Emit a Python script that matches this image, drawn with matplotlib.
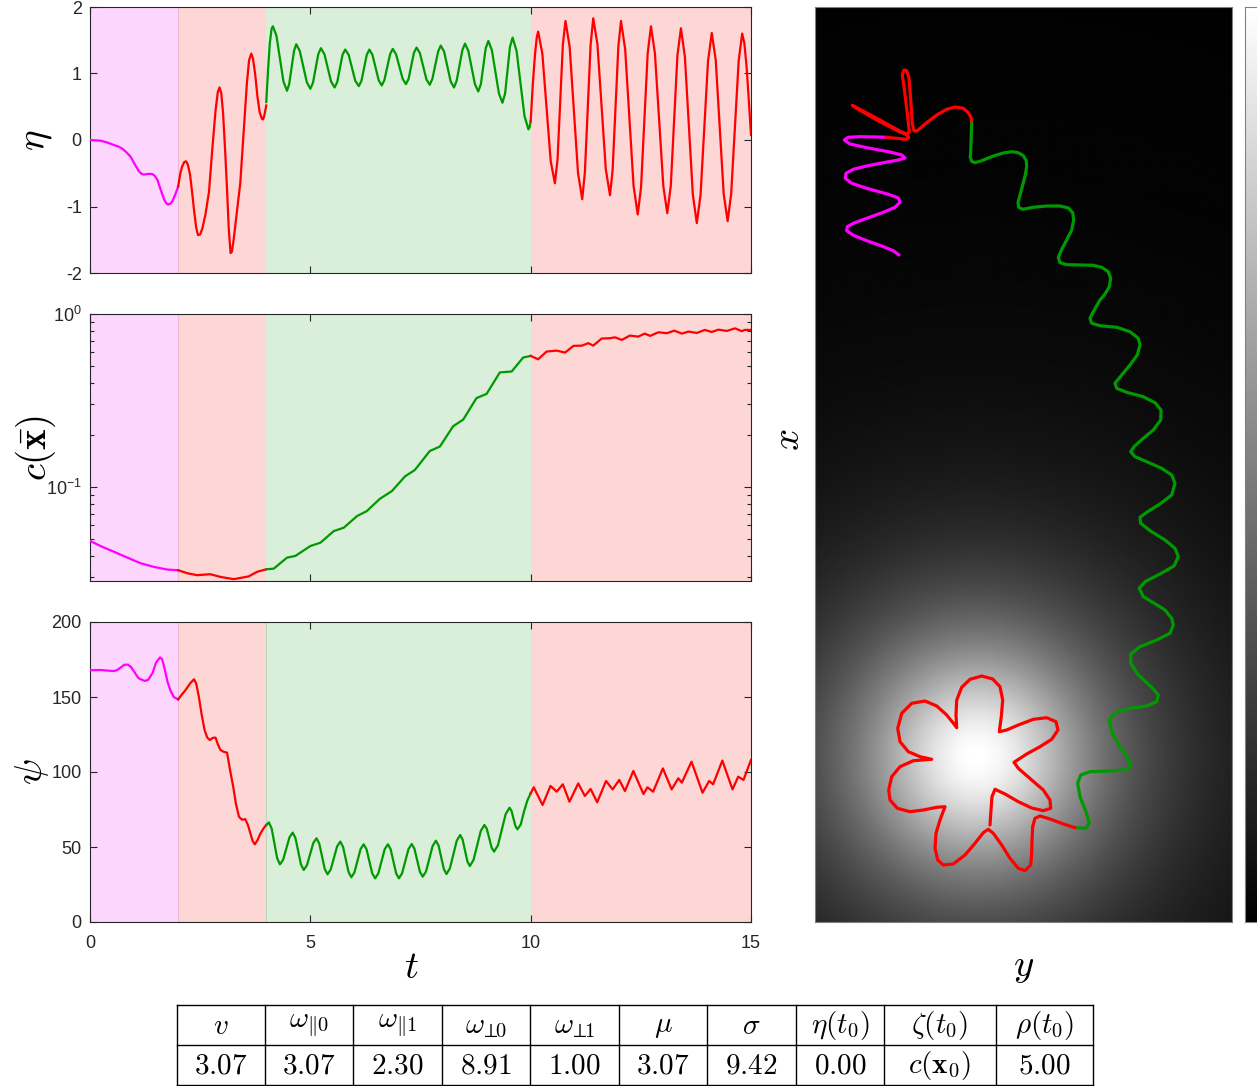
import numpy as np
import matplotlib
matplotlib.use('Agg')
import matplotlib.pyplot as plt
from matplotlib.ticker import NullFormatter, LogLocator, FixedLocator

plt.rcParams['mathtext.fontset'] = 'cm'
plt.rcParams['font.family'] = ['Liberation Sans', 'DejaVu Sans']
plt.rcParams['axes.unicode_minus'] = False

# ---------------- data ----------------
phase_edges = [0, 2, 4, 10, 15]
phase_kind = ['mag', 'red', 'green', 'red']

# eta(t)
eta_mag_t = [0, 0.24, 0.40, 0.54, 0.65, 0.73, 0.82, 0.92, 1.02, 1.11, 1.17, 1.22, 1.32, 1.41, 1.47, 1.53,
             1.60, 1.68, 1.73, 1.77, 1.82, 1.87, 1.93, 2.0]
eta_mag_v = [0, -0.01, -0.04, -0.075, -0.10, -0.13, -0.18, -0.25, -0.37, -0.47, -0.51, -0.52, -0.51, -0.51,
             -0.54, -0.60, -0.74, -0.89, -0.95, -0.97, -0.96, -0.92, -0.83, -0.70]
eta_red1_t = [2.0, 2.05, 2.09, 2.14, 2.18, 2.22, 2.27, 2.32, 2.36, 2.41, 2.45, 2.50, 2.55, 2.62, 2.70, 2.78,
              2.85, 2.90, 2.94, 2.98, 3.02, 3.07, 3.11, 3.15, 3.19, 3.22, 3.26, 3.33, 3.41, 3.48, 3.56,
              3.61, 3.66, 3.70, 3.75, 3.80, 3.85, 3.90, 3.93, 3.96, 4.0]
eta_red1_v = [-0.70, -0.50, -0.40, -0.33, -0.32, -0.37, -0.52, -0.80, -1.05, -1.32, -1.43, -1.42, -1.33,
              -1.12, -0.78, -0.10, 0.45, 0.72, 0.79, 0.70, 0.40, -0.20, -0.75, -1.35, -1.70, -1.68, -1.50,
              -1.10, -0.65, 0.05, 0.85, 1.20, 1.30, 1.22, 0.98, 0.65, 0.42, 0.32, 0.31, 0.38, 0.52]
eta_green_t = [4.0, 4.04, 4.08, 4.12, 4.15, 4.23, 4.31, 4.39, 4.47, 4.52, 4.575, 4.63, 4.68, 4.76, 4.84, 4.92,
               5.0, 5.06, 5.12, 5.18, 5.24, 5.32, 5.395, 5.47, 5.55, 5.61, 5.67, 5.73, 5.79, 5.87, 5.945,
               6.02, 6.10, 6.16, 6.22, 6.28, 6.34, 6.41, 6.48, 6.55, 6.62, 6.68, 6.745, 6.81, 6.87, 6.945,
               7.02, 7.095, 7.17, 7.23, 7.29, 7.35, 7.41, 7.485, 7.56, 7.635, 7.71, 7.77, 7.835, 7.90,
               7.96, 8.035, 8.11, 8.185, 8.26, 8.32, 8.385, 8.45, 8.51, 8.585, 8.66, 8.735, 8.81, 8.87,
               8.925, 8.98, 9.04, 9.12, 9.20, 9.28, 9.36, 9.42, 9.475, 9.53, 9.59, 9.68, 9.77, 9.86, 9.95,
               9.975, 10.0]
eta_green_v = [0.57, 1.05, 1.45, 1.67, 1.71, 1.57, 1.225, 0.88, 0.74, 0.84, 1.09, 1.34, 1.44, 1.34, 1.105,
               0.87, 0.77, 0.86, 1.075, 1.29, 1.38, 1.29, 1.085, 0.88, 0.79, 0.87, 1.075, 1.28, 1.36, 1.28,
               1.085, 0.89, 0.81, 0.89, 1.085, 1.28, 1.36, 1.28, 1.09, 0.90, 0.82, 0.90, 1.095, 1.29, 1.37,
               1.29, 1.105, 0.92, 0.84, 0.92, 1.115, 1.31, 1.39, 1.31, 1.11, 0.91, 0.83, 0.92, 1.125, 1.33,
               1.42, 1.33, 1.105, 0.88, 0.79, 0.89, 1.12, 1.35, 1.45, 1.34, 1.09, 0.84, 0.73, 0.84, 1.11,
               1.38, 1.49, 1.35, 1.025, 0.70, 0.56, 0.70, 1.05, 1.40, 1.54, 1.34, 0.85, 0.36, 0.16, 0.19, 0.28]
eta_red2_t = [10.0, 10.05, 10.10, 10.14, 10.17, 10.265, 10.36, 10.455, 10.55, 10.61, 10.67, 10.73, 10.79,
              10.885, 10.98, 11.075, 11.17, 11.23, 11.295, 11.36, 11.42, 11.515, 11.61, 11.705, 11.80,
              11.86, 11.925, 11.99, 12.05, 12.145, 12.24, 12.335, 12.43, 12.505, 12.58, 12.655, 12.73,
              12.82, 12.915, 13.01, 13.10, 13.18, 13.255, 13.33, 13.41, 13.50, 13.59, 13.68, 13.77, 13.855,
              13.94, 14.025, 14.11, 14.20, 14.29, 14.38, 14.47, 14.55, 14.635, 14.72, 14.80, 14.85, 14.90,
              14.95, 15.0]
eta_red2_v = [0.28, 0.85, 1.30, 1.55, 1.63, 1.30, 0.49, -0.32, -0.65, -0.29, 0.57, 1.43, 1.79, 1.40, 0.45,
              -0.50, -0.89, -0.49, 0.47, 1.43, 1.83, 1.44, 0.50, -0.44, -0.83, -0.45, 0.48, 1.41, 1.79, 1.36,
              0.335, -0.69, -1.12, -0.71, 0.295, 1.30, 1.71, 1.30, 0.305, -0.69, -1.10, -0.69, 0.29, 1.27,
              1.68, 1.25, 0.215, -0.82, -1.25, -0.83, 0.18, 1.19, 1.61, 1.20, 0.195, -0.81, -1.22, -0.81,
              0.19, 1.19, 1.60, 1.45, 1.10, 0.60, 0.08]

# c(x_bar)
c_mag_t = [0, 0.24, 0.54, 0.85, 1.15, 1.45, 1.75, 2.0]
c_mag_v = [0.0486, 0.0454, 0.0421, 0.0389, 0.0361, 0.0344, 0.0332, 0.0329]
c_red1_t = [2.0, 2.21, 2.43, 2.73, 2.96, 3.26, 3.60, 3.79, 4.0]
c_red1_v = [0.0329, 0.0316, 0.0308, 0.0312, 0.0301, 0.0292, 0.0303, 0.0322, 0.0333]
c_green_t = [4.0, 4.17, 4.47, 4.66, 5.0, 5.23, 5.53, 5.76, 6.06, 6.28, 6.58, 6.85, 7.15, 7.37,
             7.71, 7.94, 8.24, 8.47, 8.77, 9.0, 9.30, 9.57, 9.83, 10.0]
c_green_v = [0.0333, 0.0336, 0.0389, 0.0398, 0.0454, 0.0475, 0.0554, 0.058, 0.0677, 0.0723, 0.0853,
             0.0944, 0.115, 0.125, 0.161, 0.171, 0.224, 0.245, 0.326, 0.345, 0.459, 0.465, 0.560, 0.572]
c_red2_t = [10.0, 10.17, 10.36, 10.59, 10.78, 10.97, 11.16, 11.31, 11.42, 11.61, 11.80, 11.91, 12.07,
            12.25, 12.44, 12.59, 12.71, 12.90, 13.09, 13.26, 13.43, 13.58, 13.77, 13.95, 14.11, 14.26,
            14.45, 14.64, 14.79, 14.86, 15.0]
c_red2_v = [0.572, 0.547, 0.606, 0.614, 0.598, 0.654, 0.656, 0.678, 0.656, 0.721, 0.724, 0.733, 0.708,
            0.750, 0.740, 0.770, 0.747, 0.784, 0.774, 0.801, 0.770, 0.791, 0.777, 0.809, 0.787, 0.812,
            0.798, 0.826, 0.795, 0.809, 0.809]

# psi(t)
psi_mag_t = [0, 0.24, 0.40, 0.54, 0.62, 0.69, 0.78, 0.86, 0.93, 1.0, 1.10, 1.24, 1.32, 1.42, 1.50, 1.59,
             1.64, 1.70, 1.76, 1.83, 1.90, 2.0]
psi_mag_v = [167.8, 168, 167.6, 167.3, 168, 169.5, 171.5, 171.6, 170, 167, 162.5, 160.7, 161.5, 166, 173,
             176.4, 175, 168, 160, 154, 150, 148.4]
psi_red1_t = [2.0, 2.08, 2.17, 2.27, 2.36, 2.41, 2.47, 2.53, 2.60, 2.66, 2.72, 2.79, 2.85, 2.90, 2.96, 3.03,
              3.11, 3.18, 3.25, 3.31, 3.38, 3.45, 3.52, 3.58, 3.64, 3.69, 3.74, 3.80, 3.87, 3.94, 4.0]
psi_red1_v = [148.4, 151.5, 154.7, 159, 161.8, 159, 150.2, 139, 128, 123, 121.3, 122.8, 122.9, 118.5, 114.7,
              113.5, 112.9, 101, 90.2, 79, 70.2, 68.2, 68.6, 65, 59.1, 54, 51.8, 54.5, 59.1, 62.5, 64.7]
psi_green_t = [4.0, 4.06, 4.1225, 4.185, 4.2475, 4.31, 4.3825, 4.455, 4.5275, 4.60, 4.6625, 4.725, 4.7875,
               4.85, 4.9225, 4.995, 5.0675, 5.14, 5.2025, 5.265, 5.3275, 5.39, 5.4625, 5.535, 5.6075, 5.68,
               5.7425, 5.805, 5.8675, 5.93, 6.0, 6.07, 6.14, 6.21, 6.275, 6.34, 6.405, 6.47, 6.5425, 6.615,
               6.6875, 6.76, 6.8225, 6.885, 6.9475, 7.01, 7.0825, 7.155, 7.2275, 7.30, 7.3625, 7.425,
               7.4875, 7.55, 7.625, 7.70, 7.775, 7.85, 7.91, 7.97, 8.03, 8.09, 8.1675, 8.245, 8.3225, 8.40,
               8.455, 8.51, 8.565, 8.62, 8.7025, 8.785, 8.8675, 8.95, 9.005, 9.06, 9.115, 9.17, 9.2575,
               9.345, 9.4325, 9.52, 9.565, 9.61, 9.655, 9.70, 9.775, 9.85, 9.925, 10.0]
psi_green_v = [64.7, 66.4, 62.3, 52.4, 42.5, 38.4, 41.5, 49, 56.5, 59.6, 55.95, 47.15, 38.35, 34.7, 37.8,
               45.25, 52.7, 55.8, 52.3, 43.8, 35.3, 31.8, 35.0, 42.7, 50.4, 53.6, 50.1, 41.7, 33.3, 29.8,
               33.0, 40.8, 48.6, 51.8, 48.5, 40.45, 32.4, 29.1, 32.4, 40.45, 48.5, 51.8, 48.5, 40.45, 32.4,
               29.1, 32.5, 40.55, 48.6, 52, 48.8, 41.1, 33.4, 30.2, 33.7, 42.2, 50.7, 54.2, 51.0, 43.1,
               35.2, 32, 35.8, 45, 54.2, 58, 55.0, 47.65, 40.3, 37.3, 41.3, 51, 60.7, 64.7, 62.1, 55.8,
               49.5, 46.9, 51.2, 61.55, 71.9, 76.2, 74.1, 69, 63.9, 61.8, 65, 73.8, 81, 85.8]
psi_red2_t = [10.0, 10.07, 10.27, 10.45, 10.59, 10.73, 10.88, 11.08, 11.23, 11.36, 11.51, 11.71, 11.86,
              12.01, 12.14, 12.33, 12.56, 12.65, 12.78, 13.0, 13.20, 13.35, 13.43, 13.65, 13.90, 14.05,
              14.14, 14.35, 14.58, 14.71, 14.83, 15.0]
psi_red2_v = [85.8, 89.8, 78, 90.7, 86.9, 91.8, 80.2, 92.4, 84, 88.7, 79.8, 94, 88.4,
              94.7, 87.3, 100.7, 85.3, 89.8, 86.9, 102.4, 88.4, 95.8, 92.9, 106.9, 86.2, 94,
              91.8, 107.6, 88.4, 96.9, 94.7, 108]

# trajectory (y horizontal, x vertical), image units
traj_mag_y = [84.0, 78.3, 66.7, 51.7, 38.3, 31.7, 32.3, 38.3, 51.7, 68.3, 80.0, 85.0, 83.3, 73.3, 51.7,
              36.7, 30.3, 31.0, 38.3, 51.7, 68.3, 83.3, 90.0, 86.7, 75.0, 51.7, 35.0, 29.3, 33.3, 45.0,
              61.7, 71.0]
traj_mag_x = [667.0, 671.3, 676.0, 681.3, 686.7, 691.3, 695.3, 698.7, 703.7, 709.7, 714.7, 719.7, 724.0,
              727.7, 733.7, 738.7, 743.7, 748.7, 752.7, 756.0, 759.3, 762.0, 764.0, 767.0, 770.0, 774.3,
              778.0, 782.0, 784.7, 785.3, 785.0, 784.7]
traj_red1_y = [71.0, 81.7, 91.0, 93.7, 91.0, 81.7, 61.7, 37.3, 40.0, 61.7, 85.0, 92.3, 94.3, 92.3, 89.0,
               87.3, 89.0, 91.7, 94.0, 95.7, 97.3, 99.0, 102.3, 111.7, 121.7, 131.7, 140.0, 148.3, 153.3,
               156.0, 156.7]
traj_red1_x = [784.7, 783.7, 782.7, 784.7, 787.7, 792.7, 803.7, 816.7, 814.7, 802.0, 790.0, 788.0, 790.3,
               808.7, 835.3, 847.0, 852.0, 851.3, 843.7, 822.0, 798.7, 791.0, 791.3, 799.3, 807.0, 812.7,
               815.0, 813.7, 809.3, 804.7, 798.7]
traj_green_y = [156.7, 156.3, 156.0, 155.7, 155.3, 156.7, 160.0, 166.7, 178.3, 188.3, 196.7, 203.3, 208.3,
                211.3, 211.7, 210.3, 207.7, 205.0, 203.0, 203.7, 207.7, 218.3, 231.7, 245.0, 253.3, 257.7,
                258.7, 256.7, 251.7, 246.7, 243.3, 245.0, 251.7, 265.0, 278.3, 286.7, 293.3, 295.7, 294.3,
                290.0, 285.0, 278.3, 275.0, 276.7, 285.0, 301.7, 315.0, 323.3, 325.0, 322.3, 315.0, 306.7,
                300.0, 301.7, 311.7, 328.3, 340.0, 346.0, 345.7, 338.3, 328.3, 319.0, 315.7, 320.0, 331.7,
                346.7, 356.7, 360.0, 356.7, 345.0, 331.7, 325.0, 325.7, 335.0, 350.0, 360.0, 363.3, 359.0,
                345.0, 330.0, 324.3, 328.3, 338.3, 350.0, 356.7, 358.3, 355.0, 341.7, 325.0, 315.7, 315.7,
                323.3, 336.7, 343.3, 341.7, 331.7, 315.0, 300.0, 294.3, 296.7, 305.0, 313.3, 315.7, 310.0,
                295.0, 275.0, 265.7, 262.7, 265.0, 271.0, 274.3, 271.0, 260.0]
traj_green_x = [798.7, 788.7, 778.7, 770.3, 764.7, 760.7, 759.3, 761.3, 766.0, 769.0, 770.3, 769.3, 766.3,
                761.3, 755.3, 747.0, 737.0, 727.0, 719.3, 714.7, 712.7, 714.7, 716.0, 716.0, 714.0, 709.3,
                702.0, 692.0, 682.0, 672.7, 664.7, 659.3, 657.3, 657.0, 656.7, 654.7, 650.3, 643.7, 635.3,
                628.0, 622.0, 610.3, 603.7, 598.7, 596.3, 594.7, 590.3, 583.7, 577.0, 567.0, 557.0, 547.0,
                538.7, 533.7, 529.7, 525.3, 519.3, 512.0, 502.0, 492.0, 483.7, 475.3, 470.3, 465.3, 460.3,
                453.7, 447.0, 438.7, 427.0, 418.0, 409.7, 404.7, 398.7, 391.3, 382.0, 373.7, 365.3, 356.0,
                348.0, 340.3, 333.7, 325.3, 319.3, 312.0, 303.7, 297.0, 288.7, 282.0, 275.3, 268.0, 258.7,
                247.0, 234.7, 227.0, 220.3, 216.0, 213.7, 209.3, 202.0, 190.3, 175.3, 163.7, 156.0, 152.0,
                151.0, 150.3, 147.0, 138.7, 125.3, 110.3, 99.3, 93.7, 94.3]
traj_red2_y = [260.0, 248.3, 235.0, 225.0, 220.0, 217.7, 217.0, 216.7, 215.7, 210.0, 203.3, 195.0, 186.7,
               178.3, 173.3, 168.3, 160.0, 150.0, 138.3, 128.3, 122.7, 120.0, 121.0, 125.0, 130.0, 121.7,
               108.3, 95.0, 82.3, 75.0, 73.7, 76.7, 85.0, 98.3, 116.7, 105.0, 93.3, 85.0, 82.7, 86.7, 96.7,
               110.0, 121.7, 131.7, 139.0, 141.7, 141.0, 141.7, 146.7, 155.0, 166.7, 177.7, 185.0, 187.7,
               186.3, 184.3, 191.7, 203.3, 218.3, 231.7, 241.0, 243.0, 236.7, 225.0, 211.7, 199.0, 203.3,
               216.7, 228.3, 235.0, 235.7, 228.3, 216.7, 203.3, 190.0, 180.0, 177.0, 176.0, 175.0]
traj_red2_x = [94.3, 98.0, 103.0, 106.0, 103.7, 95.3, 82.0, 68.7, 57.0, 51.3, 53.7, 63.7, 77.0, 88.7, 92.7,
               89.3, 78.7, 67.0, 58.0, 57.0, 62.0, 73.7, 88.7, 102.0, 115.3, 114.7, 112.0, 110.3, 113.7,
               122.0, 132.0, 145.3, 155.3, 161.3, 162.7, 165.3, 170.3, 180.3, 193.7, 208.7, 218.7, 221.0,
               216.0, 207.0, 198.0, 194.3, 207.0, 222.0, 234.7, 242.7, 246.0, 243.0, 235.3, 222.0, 205.3,
               190.3, 192.0, 197.0, 202.7, 204.3, 200.3, 192.0, 182.7, 175.3, 168.0, 159.7, 153.7, 142.0,
               132.0, 122.0, 113.7, 111.3, 114.0, 120.3, 128.0, 132.7, 125.3, 112.0, 97.0]

# concentration field (source location and spread, image units)
source_y, source_x = 162.0, 165.0
field_scale = 150.0
field_power = 1.5
field_w, field_h = 417.0, 915.0

# parameter table
table_header = [r'$v$', r'$\omega_{\Vert 0}$', r'$\omega_{\Vert 1}$', r'$\omega_{\!\perp\!\!0}$',
                r'$\omega_{\!\perp\!\!1}$', r'$\mu$', r'$\sigma$', r'$\eta(t_0)$', r'$\zeta(t_0)$', r'$\rho(t_0)$']
table_values = [r'$3.07$', r'$3.07$', r'$2.30$', r'$8.91$', r'$1.00$', r'$3.07$', r'$9.42$', r'$0.00$',
                r'$c(\mathbf{x}_0)$', r'$5.00$']

# ---------------- styling ----------------
W, H = 1257, 1086
line_col = {'mag': '#ff00ff', 'red': '#ff0000', 'green': '#009900'}
bg_col = {'mag': '#fdd6fd', 'red': '#fdd6d6', 'green': '#d9efd9'}
axcol = '#262626'

fig = plt.figure(figsize=(W / 100, H / 100), dpi=100)


def rect(x0, y0, x1, y1):
    return [x0 / W, 1 - y1 / H, (x1 - x0) / W, (y1 - y0) / H]


ax1 = fig.add_axes(rect(90, 7, 751, 273))
ax2 = fig.add_axes(rect(90, 314, 751, 581))
ax3 = fig.add_axes(rect(90, 622, 751, 922))

series = [
    (ax1, [(eta_mag_t, eta_mag_v), (eta_red1_t, eta_red1_v), (eta_green_t, eta_green_v), (eta_red2_t, eta_red2_v)]),
    (ax2, [(c_mag_t, c_mag_v), (c_red1_t, c_red1_v), (c_green_t, c_green_v), (c_red2_t, c_red2_v)]),
    (ax3, [(psi_mag_t, psi_mag_v), (psi_red1_t, psi_red1_v), (psi_green_t, psi_green_v), (psi_red2_t, psi_red2_v)]),
]

for ax, segs in series:
    for i, kind in enumerate(phase_kind):
        ax.axvspan(phase_edges[i], phase_edges[i + 1], facecolor=bg_col[kind], edgecolor='none', zorder=0)
    ax.axvline(phase_edges[1], color='#f0b8d8', lw=0.8, zorder=0.5)
    for (tt, vv), kind in zip(segs, phase_kind):
        ax.plot(tt, vv, color=line_col[kind], lw=1.6, zorder=3, solid_joinstyle='round')
    ax.set_xlim(0, 15)
    ax.xaxis.set_major_locator(FixedLocator([0, 5, 10, 15]))
    ax.tick_params(which='both', direction='in', top=True, right=True, colors=axcol, labelsize=13,
                   length=5, width=0.8)
    ax.tick_params(axis='x', which='both', pad=9)
    ax.tick_params(axis='y', which='both', pad=6)
    ax.tick_params(which='minor', length=3)
    for s in ax.spines.values():
        s.set_color(axcol)
        s.set_linewidth(0.8)
    ax.set_axisbelow(False)

ax3.axvline(phase_edges[2], color='#b8d8b8', lw=0.8, zorder=0.5)

ax1.set_ylim(-2, 2)
ax1.set_yticks([-2, -1, 0, 1, 2])
ax1.set_xticklabels([])

ax2.set_yscale('log')
ax2.set_ylim(0.0285, 1.0)
ax2.yaxis.set_major_locator(LogLocator(base=10, numticks=5))
ax2.yaxis.set_minor_locator(LogLocator(base=10, subs=np.arange(2, 10), numticks=20))
ax2.yaxis.set_minor_formatter(NullFormatter())
ax2.set_xticklabels([])

ax3.set_ylim(0, 200)
ax3.set_yticks([0, 50, 100, 150, 200])


def ftext(x, y, s, rot=0, size=28):
    fig.text(x / W, 1 - y / H, s, ha='center', va='center', rotation=rot, fontsize=size, color='black')


ftext(36, 140, r'$\eta$', rot=90)
ftext(36, 448, r'$c(\bar{\mathbf{x}})$', rot=90)
ftext(32, 772, r'$\psi$', rot=90)
ftext(411, 968, r'$t$')
ftext(789, 440, r'$x$', rot=90)
ftext(1024, 967, r'$y$')

# ---------------- concentration map ----------------
axm = fig.add_axes(rect(815, 7, 1232, 922))
gy = np.linspace(0, field_w, 420)
gx = np.linspace(0, field_h, 920)
YY, XX = np.meshgrid(gy, gx)
rr2 = ((YY - source_y) ** 2 + (XX - source_x) ** 2) / field_scale ** 2
field = (1.0 + rr2) ** (-field_power)
axm.imshow(field, cmap='gray', vmin=0, vmax=1, origin='lower', extent=[0, field_w, 0, field_h],
           aspect='auto', interpolation='bilinear')
for ty, tx, kind in [(traj_mag_y, traj_mag_x, 'mag'), (traj_red1_y, traj_red1_x, 'red'),
                     (traj_green_y, traj_green_x, 'green'), (traj_red2_y, traj_red2_x, 'red')]:
    axm.plot(ty, tx, color=line_col[kind], lw=2.3, solid_capstyle='round', solid_joinstyle='round')
axm.set_xlim(0, field_w)
axm.set_ylim(0, field_h)
axm.set_xticks([])
axm.set_yticks([])
for s in axm.spines.values():
    s.set_color('#808080')
    s.set_linewidth(0.8)

# colorbar (partly outside the figure, as in the reference)
axc = fig.add_axes(rect(1245, 7, 1275, 922))
grad = np.linspace(0, 1, 256).reshape(-1, 1)
axc.imshow(grad, cmap='gray', vmin=0, vmax=1, origin='lower', aspect='auto', extent=[0, 1, 0, 1])
axc.set_xticks([])
axc.set_yticks([])
for s in axc.spines.values():
    s.set_color('#808080')
    s.set_linewidth(0.8)

# ---------------- table ----------------
axt = fig.add_axes(rect(177, 1005, 1093, 1086))
col_edges = [177, 265, 353, 442, 530, 619, 707, 796, 884, 996, 1093]
row_edges = [1005, 1045, 1085]
axt.set_xlim(177, 1093)
axt.set_ylim(1086, 1005)
axt.axis('off')
for xe in col_edges:
    axt.plot([xe, xe], [row_edges[0], row_edges[-1]], color='black', lw=1.0, clip_on=False)
for ye in row_edges:
    axt.plot([col_edges[0], col_edges[-1]], [ye, ye], color='black', lw=1.0, clip_on=False)
for i in range(len(table_header)):
    cx = 0.5 * (col_edges[i] + col_edges[i + 1])
    axt.text(cx, 0.5 * (row_edges[0] + row_edges[1]) + 1, table_header[i], ha='center', va='center', fontsize=21)
    axt.text(cx, 0.5 * (row_edges[1] + row_edges[2]) + 1, table_values[i], ha='center', va='center', fontsize=21)

fig.savefig('out.png', dpi=100)
